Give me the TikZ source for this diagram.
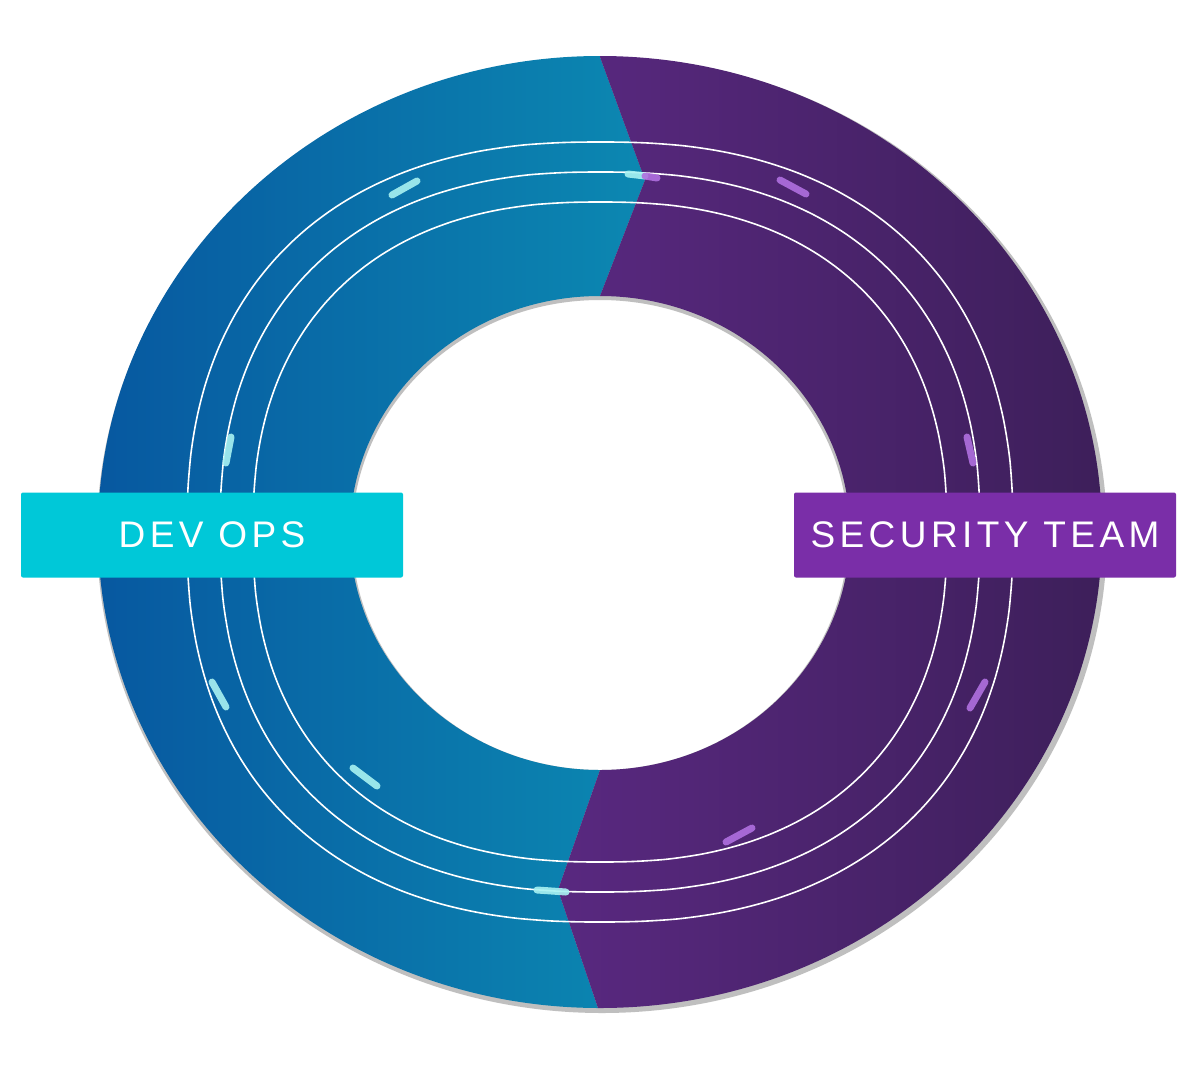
\documentclass[tikz,border=0pt]{standalone}
\usepackage{fontspec}
\setmainfont{Liberation Sans}
\newfontfamily\lblfont[LetterSpace=12]{Liberation Sans}
\definecolor{bA}{HTML}{0758A0}
\definecolor{bB}{HTML}{10B0C0}
\definecolor{pA}{HTML}{7030A0}
\definecolor{pB}{HTML}{3D1F5A}
\definecolor{cyanbox}{HTML}{00C8D8}
\definecolor{purbox}{HTML}{7A2EA8}
\definecolor{glowc}{HTML}{A8F2F2}
\definecolor{glowp}{HTML}{B070E0}
\tikzset{
 ring/.style={draw=white,line width=1.6pt},
 lbl/.style={minimum width=382pt,minimum height=85pt,rounded corners=2pt,text=white,font=\lblfont\fontsize{37}{40}\selectfont},
 gc/.style={line width=7pt,line cap=round,draw=glowc,opacity=.9},
 gp/.style={line width=7pt,line cap=round,draw=glowp,opacity=.9},
}
\begin{document}
\begin{tikzpicture}[x=1pt,y=-1pt]
\useasboundingbox (0,0) rectangle (1200,1066);
\fill[white] (0,0) rectangle (1200,1066);
% shadow
\fill[black!25,even odd rule] (602,535) ellipse [x radius=505,y radius=478] (600,535) ellipse [x radius=248,y radius=235];
\begin{scope}
\clip (0,0)--(600,0)--(600,57)--(645,180)--(600,296)--(600,770)--(558,890)--(598,1008)--(598,1066)--(0,1066)--cycle;
\shade[left color=bA,right color=bB,even odd rule] (600,532) ellipse [x radius=502,y radius=476] (600,533) ellipse [x radius=250,y radius=237];
\end{scope}
\begin{scope}
\clip (1200,0)--(600,0)--(600,57)--(645,180)--(600,296)--(600,770)--(558,890)--(598,1008)--(598,1066)--(1200,1066)--cycle;
\shade[left color=pA,right color=pB,even odd rule] (600,532) ellipse [x radius=502,y radius=476] (600,533) ellipse [x radius=250,y radius=237];
\end{scope}
% rings
\foreach \rx/\ry in {413/390,380/360,347/330}{
 \draw[ring] plot[domain=0.5:360.5,samples=181,smooth,variable=\t] ({600+\rx*sign(cos(\t))*abs(cos(\t))^(0.85)},{532+\ry*sign(sin(\t))*abs(sin(\t))^(0.85)}) -- cycle;
}
% glow marks
\draw[gc] (392,195)--(417,181);
\draw[gc] (231,437)--(226,463);
\draw[gc] (212,682)--(226,707);
\draw[gc] (353,768)--(377,786);
\draw[gc] (537,890)--(566,892);
\draw[gc] (628,174)--(645,176);
\draw[gp] (645,176)--(657,178);
\draw[gp] (780,180)--(806,194);
\draw[gp] (967,437)--(973,463);
\draw[gp] (985,682)--(970,708);
\draw[gp] (726,842)--(752,828);
% labels
\node[lbl,fill=cyanbox] (dev) at (212,535) {DEV OPS};
\node[lbl,fill=purbox] (sec) at (985,535) {SECURITY TEAM};
\end{tikzpicture}
\end{document}
